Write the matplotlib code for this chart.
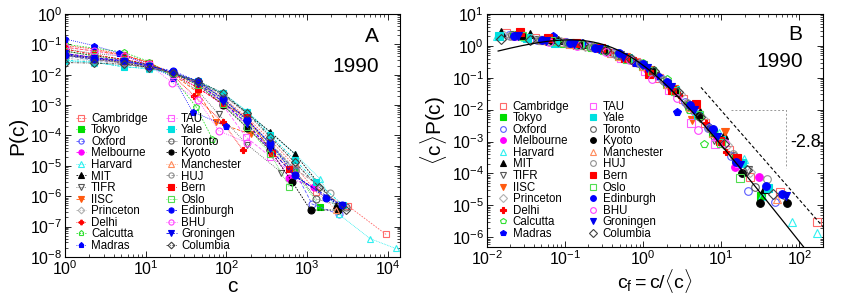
import numpy as np
import matplotlib
matplotlib.use('Agg')
import matplotlib.pyplot as plt
from matplotlib.ticker import LogLocator, NullFormatter

plt.rcParams['font.family'] = ['Liberation Sans', 'DejaVu Sans']
plt.rcParams['mathtext.fontset'] = 'custom'
plt.rcParams['mathtext.rm'] = 'Liberation Sans'
plt.rcParams['mathtext.it'] = 'Liberation Sans:italic'
plt.rcParams['mathtext.bf'] = 'Liberation Sans:bold'

# institutions (legend order), mean citations <c>, styles
names = ['Cambridge', 'Tokyo', 'Oxford', 'Melbourne', 'Harvard', 'MIT', 'TIFR', 'IISC',
         'Princeton', 'Delhi', 'Calcutta', 'Madras', 'TAU', 'Yale', 'Toronto', 'Kyoto',
         'Manchester', 'HUJ', 'Bern', 'Oslo', 'Edinburgh', 'BHU', 'Groningen', 'Columbia']
means = [56, 45, 52, 40, 74, 65, 22, 18, 60, 14, 11, 14,
         42, 70, 48, 35, 45, 50, 38, 35, 45, 16, 40, 65]
colors = ['#ff6a6a', '#00dd00', '#5a5aff', '#ff00ff', '#30f0f0', '#000000', '#555555', '#ff5a10',
          '#b0b0b0', '#ff0000', '#30e030', '#0000ff', '#ff60ff', '#00e0e0', '#606060', '#000000',
          '#ff8a5a', '#909090', '#ff0000', '#50dd50', '#0000ff', '#ff40ff', '#0000ee', '#404040']
markers = ['s', 's', 'o', 'o', '^', '^', 'v', 'v', 'D', 'P', 'p', 'p',
           's', 's', 'o', 'o', '^', 'o', 's', 's', 'o', 'o', 'v', 'D']
filled = [False, True, False, True, False, True, False, True, False, True, False, True,
          False, True, False, True, False, False, True, False, True, False, True, False]

# citation bins c and P(c) for each institution (1990)
cambridge_c = [1, 2.3, 5.3, 11, 22, 45, 90, 180, 350, 700, 1300, 3200, 9500]
cambridge_p = [0.045, 0.032, 0.024, 0.018, 0.011, 0.0055, 0.0018, 3.9e-4, 7e-5, 1.0e-5, 1.4e-6, 4.8e-7, 5.5e-8]
tokyo_c = [1, 2.3, 5.3, 11, 22, 45, 90, 180, 350, 700, 1450]
tokyo_p = [0.05, 0.034, 0.027, 0.02, 0.011, 0.0052, 0.0014, 2.8e-4, 4.2e-5, 6.5e-6, 4.5e-7]
oxford_c = [1, 2.3, 5.3, 11, 22, 45, 90, 180, 350, 700, 1150, 2500]
oxford_p = [0.042, 0.03, 0.025, 0.019, 0.0115, 0.0057, 0.0017, 3.3e-4, 5e-5, 7e-6, 5.5e-7, 2.5e-7]
melbourne_c = [1, 2.3, 5.3, 11, 22, 45, 90, 180, 350, 600, 1200]
melbourne_p = [0.05, 0.037, 0.03, 0.021, 0.0115, 0.0048, 0.0012, 2.2e-4, 3.3e-5, 4e-6, 2e-6]
harvard_c = [1, 2.3, 5.3, 11, 22, 45, 90, 180, 350, 700, 1450, 2450, 6000, 12500]
harvard_p = [0.028, 0.025, 0.019, 0.015, 0.0105, 0.0058, 0.0025, 6.2e-4, 1.2e-4, 2.5e-5, 3.7e-6, 2.6e-7, 4e-8, 1.9e-8]
mit_c = [1, 2.3, 5.3, 11, 22, 45, 90, 180, 350, 700, 2300]
mit_p = [0.043, 0.037, 0.024, 0.017, 0.011, 0.0058, 0.0022, 5.4e-4, 1.3e-4, 2.5e-5, 5e-7]
tifr_c = [1, 2.3, 5.3, 11, 22, 45, 80, 180, 480]
tifr_p = [0.07, 0.05, 0.04, 0.024, 0.011, 0.0028, 5e-4, 5e-5, 6e-6]
iisc_c = [1, 2.3, 5.3, 11, 22, 45, 75, 200]
iisc_p = [0.08, 0.06, 0.045, 0.025, 0.01, 0.0025, 2.7e-4, 1.1e-4]
princeton_c = [1, 2.3, 5.3, 11, 22, 45, 90, 180, 350, 700, 1400]
princeton_p = [0.035, 0.028, 0.022, 0.017, 0.011, 0.0058, 0.0021, 5e-4, 8.5e-5, 1.3e-5, 1.8e-6]
delhi_c = [1, 2.3, 5.3, 11, 22, 40, 90, 160]
delhi_p = [0.09, 0.07, 0.045, 0.025, 0.009, 0.002, 2.7e-4, 3.3e-5]
calcutta_c = [1, 2.3, 5.3, 11, 22, 42, 67]
calcutta_p = [0.1, 0.075, 0.055, 0.027, 0.008, 8.7e-4, 7.7e-5]
madras_c = [1, 2.3, 4.6, 11, 22, 38, 98]
madras_p = [0.15, 0.09, 0.052, 0.02, 0.008, 6e-4, 2.1e-4]
tau_c = [1, 2.3, 5.3, 11, 22, 45, 90, 173, 350, 700]
tau_p = [0.05, 0.035, 0.028, 0.02, 0.01, 0.0038, 1e-3, 9e-5, 2e-5, 5e-6]
yale_c = [1, 2.3, 5.3, 11, 22, 45, 90, 180, 350, 700, 1300, 2800]
yale_p = [0.03, 0.026, 0.018, 0.016, 0.011, 0.006, 0.0024, 6e-4, 1e-4, 1.6e-5, 3e-6, 5e-7]
toronto_c = [1, 2.3, 5.3, 11, 22, 45, 90, 180, 350, 700, 1300, 3000]
toronto_p = [0.045, 0.032, 0.026, 0.019, 0.011, 0.0055, 0.0016, 3.2e-4, 5e-5, 7.5e-6, 8e-7, 4.5e-7]
kyoto_c = [1, 2.3, 5.3, 11, 22, 45, 90, 180, 350, 650, 1100, 2400]
kyoto_p = [0.06, 0.042, 0.032, 0.021, 0.011, 0.0045, 1e-3, 1.8e-4, 3.2e-5, 3e-6, 3.5e-7, 3.5e-7]
manchester_c = [1, 2.3, 5.3, 11, 22, 45, 90, 180, 350, 700, 2300]
manchester_p = [0.05, 0.035, 0.026, 0.02, 0.011, 0.005, 1.4e-3, 2.7e-4, 4e-5, 6e-6, 3.5e-7]
huj_c = [1, 2.3, 5.3, 11, 22, 45, 90, 180, 350, 700, 1900]
huj_p = [0.042, 0.031, 0.025, 0.019, 0.0112, 0.0056, 1.7e-3, 3.3e-4, 5.5e-5, 8e-6, 1.3e-6]
bern_c = [1, 2.3, 5.3, 11, 22, 45, 90, 180, 370, 600]
bern_p = [0.07, 0.045, 0.032, 0.022, 0.011, 0.0035, 1.1e-3, 4e-4, 2.7e-5, 8e-6]
oslo_c = [1, 2.3, 5.3, 11, 22, 45, 90, 180, 350, 600]
oslo_p = [0.06, 0.04, 0.03, 0.021, 0.011, 0.0045, 1.1e-3, 1.9e-4, 2.5e-5, 2e-6]
edinburgh_c = [1, 2.3, 5.3, 11, 22, 45, 90, 180, 350, 700, 1700, 2700]
edinburgh_p = [0.045, 0.033, 0.028, 0.019, 0.013, 0.006, 0.0016, 3.2e-4, 5.5e-5, 5e-6, 9e-7, 5e-7]
bhu_c = [1, 2.3, 5.3, 11, 21, 44, 81, 180]
bhu_p = [0.08, 0.06, 0.04, 0.022, 0.0055, 1.5e-3, 1.4e-4, 5.7e-5]
groningen_c = [1, 2.3, 5.3, 11, 22, 45, 90, 180, 350, 700, 2700]
groningen_p = [0.05, 0.036, 0.029, 0.02, 0.0115, 0.005, 1.3e-3, 2.4e-4, 3.5e-5, 4.5e-6, 5e-7]
columbia_c = [1, 2.3, 5.3, 11, 22, 45, 90, 180, 350, 700, 1400, 3000]
columbia_p = [0.025, 0.024, 0.022, 0.017, 0.011, 0.006, 0.0025, 5.5e-4, 9e-5, 1.3e-5, 2e-6, 3.5e-7]

c_lists = [cambridge_c, tokyo_c, oxford_c, melbourne_c, harvard_c, mit_c, tifr_c, iisc_c,
           princeton_c, delhi_c, calcutta_c, madras_c, tau_c, yale_c, toronto_c, kyoto_c,
           manchester_c, huj_c, bern_c, oslo_c, edinburgh_c, bhu_c, groningen_c, columbia_c]
p_lists = [cambridge_p, tokyo_p, oxford_p, melbourne_p, harvard_p, mit_p, tifr_p, iisc_p,
           princeton_p, delhi_p, calcutta_p, madras_p, tau_p, yale_p, toronto_p, kyoto_p,
           manchester_p, huj_p, bern_p, oslo_p, edinburgh_p, bhu_p, groningen_p, columbia_p]

dashes = [(0, (2, 1.5)), (0, (1, 1.5)), (0, (4, 2)), (0, (3, 1.5, 1, 1.5)), (0, (1, 1))]

fig = plt.figure(figsize=(8.45, 2.96), dpi=100)
axA = fig.add_axes([0.077, 0.132, 0.396, 0.821])
axB = fig.add_axes([0.576, 0.166, 0.398, 0.787])

for i, name in enumerate(names):
    c = np.array(c_lists[i])
    p = np.array(p_lists[i])
    col = colors[i]
    mfc = col if filled[i] else 'none'
    ms = 4.5 if markers[i] in ('D', 'P') else 5
    axA.plot(c, p, ls=dashes[i % len(dashes)], lw=0.6, color=col, marker=markers[i],
             ms=ms, mfc=mfc, mec=col, mew=0.8, label=name)
    axB.plot(c / means[i], p * means[i], ls='none', color=col, marker=markers[i],
             ms=ms + 0.5, mfc=mfc, mec=col, mew=0.8, label=name)

# lognormal-like fit and power law tail in panel B
xf = np.logspace(np.log10(0.014), np.log10(130), 300)
yf = 15.1 * xf ** 0.7 / (1 + xf / 0.51) ** 3.8
axB.plot(xf, yf, color='black', lw=0.9, zorder=5)
xp = np.logspace(np.log10(5.5), np.log10(220), 50)
axB.plot(xp, 5.9 * xp ** -2.8, color='black', lw=0.8, ls=(0, (3, 2)), zorder=5)
axB.plot([13.5, 68, 68], [0.01, 0.01, 1.5e-4], color='#999999', lw=0.7, ls=(0, (2, 2)))
axB.text(120, 9e-4, '-2.8', ha='center', va='center', fontsize=13)

for ax in (axA, axB):
    ax.set_xscale('log')
    ax.set_yscale('log')
    ax.xaxis.set_major_locator(LogLocator(base=10, numticks=20))
    ax.yaxis.set_major_locator(LogLocator(base=10, numticks=20))
    ax.xaxis.set_minor_locator(LogLocator(base=10, subs=np.arange(2, 10), numticks=20))
    ax.yaxis.set_minor_locator(LogLocator(base=10, subs=np.arange(2, 10), numticks=20))
    ax.xaxis.set_minor_formatter(NullFormatter())
    ax.yaxis.set_minor_formatter(NullFormatter())
    ax.tick_params(which='both', direction='in', top=True, right=True, labelsize=11.5, pad=2)
    ax.tick_params(which='major', length=4, width=0.6)
    ax.tick_params(which='minor', length=2.2, width=0.5)
    for s in ax.spines.values():
        s.set_linewidth(0.8)

axA.set_xlim(1, 1.4e4)
axA.set_ylim(1e-8, 1)
axA.set_xlabel('c', fontsize=15, labelpad=-1)
axA.set_ylabel('P(c)', fontsize=15, labelpad=2)
axA.text(0.916, 0.905, 'A', transform=axA.transAxes, ha='center', va='center', fontsize=15)
axA.text(0.869, 0.782, '1990', transform=axA.transAxes, ha='center', va='center', fontsize=15)

axB.set_xlim(1e-2, 200)
axB.set_ylim(5e-7, 10)
axB.set_xlabel(r'$\mathrm{c}_\mathrm{f}\mathrm{=c/}\langle\mathrm{c}\rangle$', fontsize=14, labelpad=-1)
axB.set_ylabel(r'$\langle\mathrm{c}\rangle\mathrm{P(c)}$', fontsize=15, labelpad=2)
axB.text(0.917, 0.91, 'B', transform=axB.transAxes, ha='center', va='center', fontsize=15)
axB.text(0.872, 0.794, '1990', transform=axB.transAxes, ha='center', va='center', fontsize=15)

leg_kw = dict(ncol=2, frameon=False, fontsize=8.3, handlelength=0.9, handletextpad=0.4,
              labelspacing=-0.04, columnspacing=1.6, borderpad=0, borderaxespad=0,
              loc='upper left', markerscale=0.75)
axA.legend(bbox_to_anchor=(0.033, 0.593), **leg_kw)
axB.legend(bbox_to_anchor=(0.033, 0.627), **leg_kw)

fig.savefig('out.png', dpi=100)
